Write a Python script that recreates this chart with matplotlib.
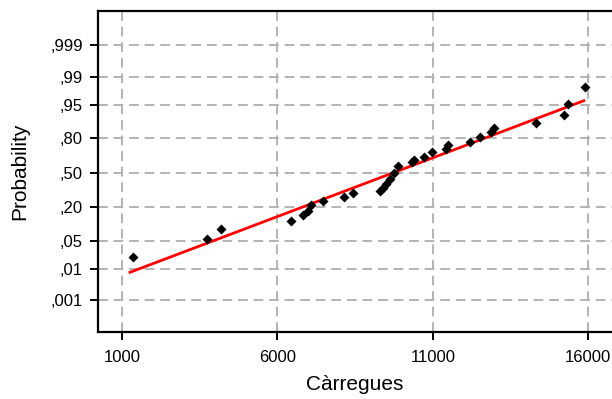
import matplotlib
matplotlib.use("Agg")
import matplotlib.pyplot as plt
from statistics import NormalDist

plt.rcParams['font.family'] = ['Liberation Sans', 'DejaVu Sans']

# Valors llegits del gràfic (Càrregues ordenades i probabilitat acumulada)
carregues = [1344, 3723, 4173, 6424, 6810, 6990, 7067, 7453, 8147, 8417,
             9311, 9391, 9488, 9616, 9745, 9883, 10340, 10388, 10709, 10976,
             11417, 11491, 12188, 12510, 12886, 12960, 14333, 15220, 15349, 15886]
probabilitat = [0.021, 0.054, 0.086, 0.123, 0.153, 0.179, 0.219, 0.249, 0.281, 0.309,
                0.325, 0.356, 0.392, 0.436, 0.502, 0.564, 0.598, 0.621, 0.652, 0.692,
                0.721, 0.745, 0.774, 0.804, 0.840, 0.859, 0.884, 0.919, 0.951, 0.981]

# Recta de referència normal
ref_mitjana = 9730
ref_desv = 3513
ref_x = [1257, 15853]

x_ticks = [1000, 6000, 11000, 16000]
p_ticks = [0.001, 0.01, 0.05, 0.20, 0.50, 0.80, 0.95, 0.99, 0.999]
p_labels = [',001', ',01', ',05', ',20', ',50', ',80', ',95', ',99', ',999']

nd = NormalDist()
z_punts = [nd.inv_cdf(p) for p in probabilitat]
z_ticks = [nd.inv_cdf(p) for p in p_ticks]
z_ref = [(x - ref_mitjana) / ref_desv for x in ref_x]

fig = plt.figure(figsize=(6.12, 3.99), dpi=100)
ax = fig.add_axes([0.1606, 0.1672, 0.8394, 0.806])

ax.set_xlim(238, 16762)
ax.set_ylim(-3.864, 3.923)

ax.set_xticks(x_ticks)
ax.set_xticklabels([str(v) for v in x_ticks])
ax.set_yticks(z_ticks)
ax.set_yticklabels(p_labels)

ax.grid(True, color='#b3b3b3', linestyle=(0, (5, 3)), linewidth=1.4, zorder=0)
ax.set_axisbelow(True)

ax.plot(ref_x, z_ref, color='#ff0000', linewidth=2.0, zorder=2)
ax.scatter(carregues, z_punts, marker='D', s=26, color='black', linewidths=0, zorder=3)

for s in ['left', 'bottom', 'top']:
    ax.spines[s].set_linewidth(1.6)
ax.spines['right'].set_visible(False)

ax.tick_params(axis='both', direction='out', length=6, width=1.4, labelsize=12)
ax.tick_params(axis='y', pad=5)
ax.tick_params(axis='x', pad=7)

ax.set_xlabel('Càrregues', fontsize=15, labelpad=7)
ax.set_ylabel('Probability', fontsize=15, labelpad=15)

fig.savefig('out.png', dpi=100)
